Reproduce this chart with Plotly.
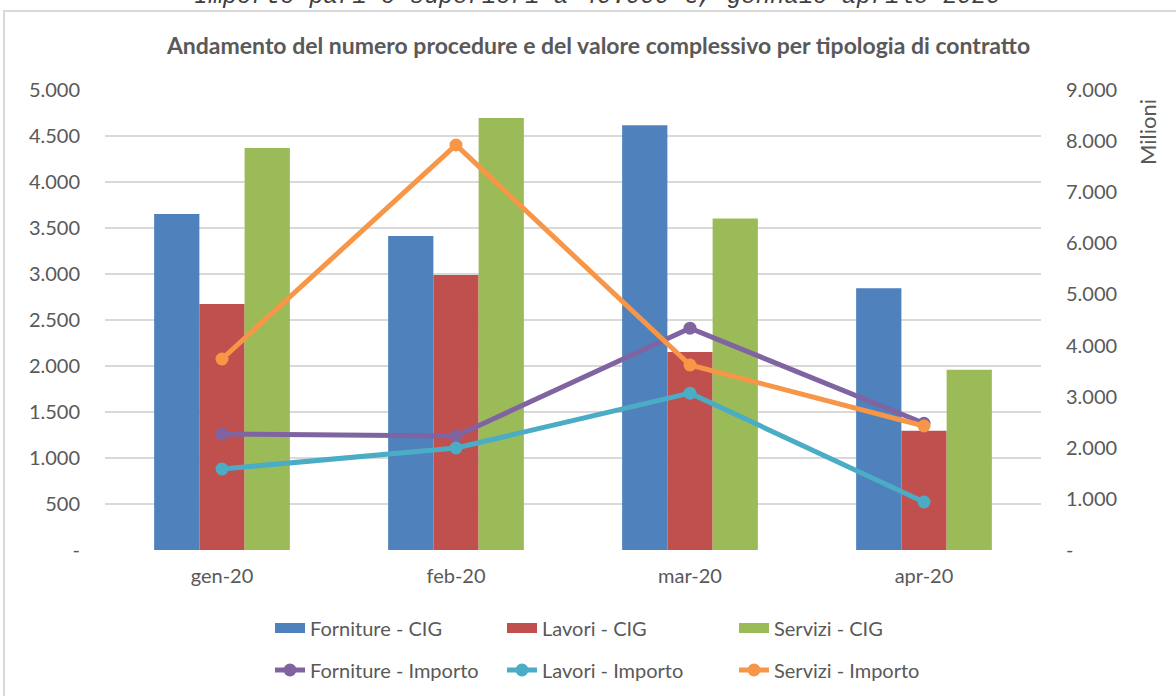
import plotly.graph_objects as go

# ---- data ----
categories = ["gen-20", "feb-20", "mar-20", "apr-20"]
forniture_cig = [3652, 3413, 4617, 2846]
lavori_cig = [2674, 2989, 2152, 1295]
servizi_cig = [4370, 4696, 3603, 1960]
# importo, displayed in "Milioni" on the right axis
forniture_imp = [2270, 2230, 4340, 2480]
lavori_imp = [1585, 1996, 3068, 939]
servizi_imp = [3737, 7924, 3620, 2426]

left_tickvals = [0, 500, 1000, 1500, 2000, 2500, 3000, 3500, 4000, 4500, 5000]
left_ticktext = ["-", "500", "1.000", "1.500", "2.000", "2.500", "3.000", "3.500", "4.000", "4.500", "5.000"]
right_tickvals = [0, 1000, 2000, 3000, 4000, 5000, 6000, 7000, 8000, 9000]
right_ticktext = ["-", "1.000", "2.000", "3.000", "4.000", "5.000", "6.000", "7.000", "8.000", "9.000"]

title_text = "Andamento del numero procedure e del valore complessivo per tipologia di contratto"
top_caption = "Importo pari o superiori a 40.000 €, gennaio-aprile 2020"

C_BLUE, C_RED, C_GREEN = "#4F81BD", "#C0504D", "#9BBB59"
C_PURPLE, C_TEAL, C_ORANGE = "#8064A2", "#4BACC6", "#F79646"
FONT = "Lato"
TXT = "#595959"

# plot area in pixels
W, H = 1176, 696
L, R, T, B = 105, 1041, 90, 550

def px_x(p):
    return (p - L) / (R - L)

def px_y(p):
    return (B - p) / (B - T)

fig = go.Figure()

bar_series = [("Forniture - CIG", forniture_cig, C_BLUE),
              ("Lavori - CIG", lavori_cig, C_RED),
              ("Servizi - CIG", servizi_cig, C_GREEN)]
for name, vals, col in bar_series:
    fig.add_trace(go.Bar(x=categories, y=vals, name=name, marker_color=col,
                         marker_line_width=0, showlegend=False, legendgroup=name))
# legend swatches for bars
for name, vals, col in bar_series:
    fig.add_trace(go.Scatter(x=[None], y=[None], mode="lines", name=name,
                             line=dict(color=col, width=14), legend="legend",
                             legendgroup=name, hoverinfo="skip"))

line_series = [("Forniture - Importo", forniture_imp, C_PURPLE),
               ("Lavori - Importo", lavori_imp, C_TEAL),
               ("Servizi - Importo", servizi_imp, C_ORANGE)]
for name, vals, col in line_series:
    fig.add_trace(go.Scatter(x=categories, y=vals, name=name, yaxis="y2",
                             mode="lines+markers",
                             line=dict(color=col, width=5),
                             marker=dict(color=col, size=13),
                             legend="legend2"))

fig.update_layout(
    width=W, height=H,
    margin=dict(l=L, r=W - R, t=T, b=H - B, pad=0),
    paper_bgcolor="white", plot_bgcolor="white",
    font=dict(family=FONT, color=TXT, size=20),
    barmode="group", bargap=0.42, bargroupgap=0,
    xaxis=dict(type="category", showgrid=False, showline=False, ticks="",
               tickfont=dict(size=20, color=TXT), ticklabelstandoff=12),
    yaxis=dict(range=[0, 5000], tickvals=left_tickvals, ticktext=left_ticktext,
               showgrid=True, gridcolor="#D9D9D9", gridwidth=2, zeroline=False,
               showline=False, ticks="", ticklabelstandoff=24,
               tickfont=dict(size=20, color=TXT)),
    yaxis2=dict(range=[0, 9000], tickvals=right_tickvals, ticktext=right_ticktext,
                overlaying="y", side="right", showgrid=False, zeroline=False,
                showline=False, ticks="", ticklabelstandoff=24,
                tickfont=dict(size=20, color=TXT)),
    legend=dict(orientation="h", x=270 / W, xref="container", y=1 - 628 / H, yref="container",
                xanchor="left", yanchor="middle",
                entrywidth=187, entrywidthmode="pixels", font=dict(size=20, color=TXT),
                bgcolor="rgba(0,0,0,0)"),
    legend2=dict(orientation="h", x=270 / W, xref="container", y=1 - 670 / H, yref="container",
                 xanchor="left", yanchor="middle",
                 entrywidth=187, entrywidthmode="pixels", font=dict(size=20, color=TXT),
                 bgcolor="rgba(0,0,0,0)"),
    showlegend=True,
)

fig.update_layout(
    title=dict(text="<b>" + title_text + "</b>", x=598.5 / W, xanchor="center",
               y=1 - 46 / H, yanchor="middle", font=dict(size=23, color=TXT, family=FONT)),
)

# right axis unit label
fig.add_annotation(text="Milioni", xref="paper", yref="paper", x=px_x(1147), y=px_y(132),
                   textangle=-90, showarrow=False, font=dict(size=22, color=TXT),
                   xanchor="center", yanchor="middle")

# cut-off caption at the top of the image
fig.add_annotation(text="<i>" + top_caption + "</i>", xref="paper", yref="paper",
                   x=px_x(597), y=px_y(12), xanchor="center", yanchor="bottom",
                   showarrow=False, font=dict(size=24, color="#404040", family="Liberation Mono"))

# chart frame
fig.add_shape(type="rect", xref="paper", yref="paper",
              x0=px_x(4), x1=px_x(1190), y0=px_y(710), y1=px_y(11),
              line=dict(color="#D9D9D9", width=2), fillcolor="rgba(0,0,0,0)", layer="below")

fig.write_html("out.html", config={"displayModeBar": False},
               post_script="document.body.style.margin='0';")
